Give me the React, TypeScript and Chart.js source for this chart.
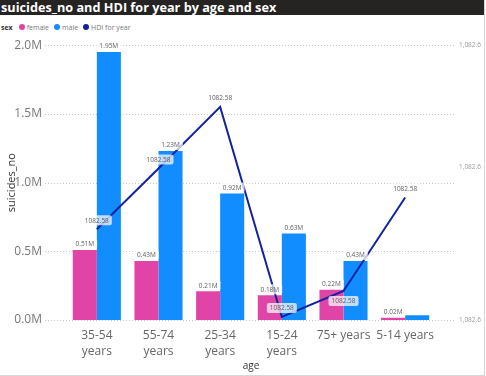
import React, { useEffect, useRef } from 'react';
import { Chart, registerables } from 'chart.js';

Chart.register(...registerables);

const titleText = 'suicides_no and HDI for year by age and sex';
const categories = ['35-54 years', '55-74 years', '25-34 years', '15-24 years', '75+ years', '5-14 years'];
const tickLabels = [['35-54', 'years'], ['55-74', 'years'], ['25-34', 'years'], ['15-24', 'years'], ['75+ years'], ['5-14 years']];
const femaleValues = [510000, 430000, 210000, 180000, 220000, 17000];
const maleValues = [1950000, 1230000, 920000, 630000, 430000, 35000];
const hdiValues = [1082.57797, 1082.57996, 1082.58198, 1082.5751, 1082.57595, 1082.57901];
const yTicks = [0, 500000, 1000000, 1500000, 2000000];
const hdiTicks = [1082.575, 1082.58, 1082.584];
const maleLabelHidden = [5];
const hdiLabelBelow = [4];

const FEMALE = '#E044A7';
const MALE = '#118DFF';
const HDI = '#12239E';
const FONT = "'Open Sans', 'Noto Sans', sans-serif";

function drawBoxLabel(ctx: CanvasRenderingContext2D, text: string, x: number, cy: number) {
  ctx.font = `6.5px ${FONT}`;
  const w = ctx.measureText(text).width;
  const bx = x - w / 2 - 3;
  const by = cy - 5;
  ctx.fillStyle = 'rgba(255,255,255,0.72)';
  ctx.beginPath();
  if ((ctx as any).roundRect) (ctx as any).roundRect(bx, by, w + 6, 10, 2);
  else ctx.rect(bx, by, w + 6, 10);
  ctx.fill();
  ctx.fillStyle = '#605E5C';
  ctx.textAlign = 'center';
  ctx.textBaseline = 'middle';
  ctx.fillText(text, x, cy + 0.5);
}

const gridPlugin = {
  id: 'dottedGrid',
  beforeDatasetsDraw(chart: any) {
    const ctx = chart.ctx as CanvasRenderingContext2D;
    const ys = chart.scales.y;
    ctx.save();
    ctx.strokeStyle = '#c8c8c8';
    ctx.lineWidth = 1;
    ctx.setLineDash([1, 2]);
    yTicks.forEach((v) => {
      const py = Math.round(ys.getPixelForValue(v)) + 0.5;
      ctx.beginPath();
      ctx.moveTo(45, py);
      ctx.lineTo(456, py);
      ctx.stroke();
    });
    ctx.restore();
  },
};

const labelPlugin = {
  id: 'dataLabels',
  afterDatasetsDraw(chart: any) {
    const ctx = chart.ctx as CanvasRenderingContext2D;
    ctx.save();
    const fm = chart.getDatasetMeta(0);
    fm.data.forEach((el: any, i: number) => {
      drawBoxLabel(ctx, (femaleValues[i] / 1e6).toFixed(2) + 'M', el.x, el.y - 6);
    });
    const mm = chart.getDatasetMeta(1);
    mm.data.forEach((el: any, i: number) => {
      if (maleLabelHidden.includes(i)) return;
      drawBoxLabel(ctx, (maleValues[i] / 1e6).toFixed(2) + 'M', el.x, el.y - 6);
    });
    const lm = chart.getDatasetMeta(2);
    lm.data.forEach((el: any, i: number) => {
      const dy = hdiLabelBelow.includes(i) ? 10 : -9;
      drawBoxLabel(ctx, hdiValues[i].toFixed(2), el.x, el.y + dy);
    });
    ctx.restore();
  },
};

export default function App() {
  const ref = useRef<HTMLCanvasElement>(null);
  useEffect(() => {
    if (!ref.current) return;
    const chart = new Chart(ref.current, {
      type: 'bar',
      data: {
        labels: tickLabels as any,
        datasets: [
          { type: 'bar', label: 'female', data: femaleValues, backgroundColor: FEMALE, yAxisID: 'y', order: 2, categoryPercentage: 0.78, barPercentage: 1 },
          { type: 'bar', label: 'male', data: maleValues, backgroundColor: MALE, yAxisID: 'y', order: 2, categoryPercentage: 0.78, barPercentage: 1 },
          { type: 'line', label: 'HDI for year', data: hdiValues, borderColor: HDI, borderWidth: 2, pointRadius: 0, tension: 0, yAxisID: 'y1', order: 0 } as any,
        ],
      },
      options: {
        animation: false,
        responsive: false,
        devicePixelRatio: 1,
        layout: { padding: { top: 10, left: 0, right: 0, bottom: 0 } },
        plugins: { legend: { display: false }, tooltip: { enabled: false } },
        scales: {
          x: {
            offset: true,
            grid: { display: false, drawTicks: false },
            border: { display: false },
            ticks: { color: '#666666', font: { family: FONT, size: 12, lineHeight: 1.333 }, padding: 8, maxRotation: 0, autoSkip: false },
            title: { display: true, text: 'age', color: '#333333', font: { family: FONT, size: 10 }, padding: { top: 0, bottom: 2 } },
            afterFit: (s: any) => { s.height = 54; },
          },
          y: {
            position: 'left',
            min: 0,
            max: 2000000,
            grid: { display: false, drawTicks: false },
            border: { display: false },
            ticks: {
              color: '#777777',
              font: { family: FONT, size: 12 },
              padding: 24,
              stepSize: 500000,
              callback: (v: any) => (Number(v) / 1e6).toFixed(1) + 'M',
            },
            afterBuildTicks: (s: any) => { s.ticks = yTicks.map((v) => ({ value: v })); },
            title: { display: true, text: 'suicides_no', color: '#333333', font: { family: FONT, size: 11 }, padding: { top: 5, bottom: 0 } },
            afterFit: (s: any) => { s.width = 66; },
          },
          y1: {
            position: 'right',
            min: 1082.575,
            max: 1082.584,
            grid: { display: false, drawTicks: false },
            border: { display: false },
            ticks: {
              color: '#999999',
              font: { family: FONT, size: 6.5 },
              padding: 23,
              callback: (v: any) => Number(v).toLocaleString('en-US', { minimumFractionDigits: 1, maximumFractionDigits: 1 }),
            },
            afterBuildTicks: (s: any) => { s.ticks = hdiTicks.map((v) => ({ value: v })); },
            afterFit: (s: any) => { s.width = 48; },
          },
        },
      } as any,
      plugins: [gridPlugin, labelPlugin],
    });
    return () => chart.destroy();
  }, []);

  const legendItem = (color: string, text: string) => (
    <span style={{ display: 'inline-flex', alignItems: 'center', marginRight: 5 }}>
      <span style={{ width: 6, height: 6, borderRadius: 3, background: color, display: 'inline-block', marginRight: 2 }} />
      <span>{text}</span>
    </span>
  );

  return (
    <div style={{ position: 'fixed', left: 0, top: 0, width: 486, height: 376, background: '#ffffff', overflow: 'hidden', fontFamily: FONT }}>
      <div style={{ position: 'absolute', left: 0, top: 0, width: 484, height: 375, borderRight: '1px solid #d6d6d6', borderBottom: '1px solid #d6d6d6' }} />
      <div style={{ position: 'absolute', left: 0, top: 0, width: 484, height: 15, background: '#252423', color: '#ffffff', fontWeight: 700, fontSize: 12.7, lineHeight: '15px', paddingLeft: 1, whiteSpace: 'nowrap', boxSizing: 'border-box' }}>
        {titleText}
      </div>
      <div style={{ position: 'absolute', left: 1, top: 21, height: 12, display: 'flex', alignItems: 'center', fontSize: 7, color: '#777777', whiteSpace: 'nowrap' }}>
        <span style={{ fontWeight: 700, color: '#333333', marginRight: 6 }}>sex</span>
        {legendItem(FEMALE, 'female')}
        {legendItem(MALE, 'male')}
        {legendItem(HDI, 'HDI for year')}
      </div>
      <canvas ref={ref} width={484} height={360} style={{ position: 'absolute', left: 0, top: 14, width: 484, height: 360 }} />
      <span style={{ display: 'none' }}>{categories.join(',')}</span>
    </div>
  );
}
